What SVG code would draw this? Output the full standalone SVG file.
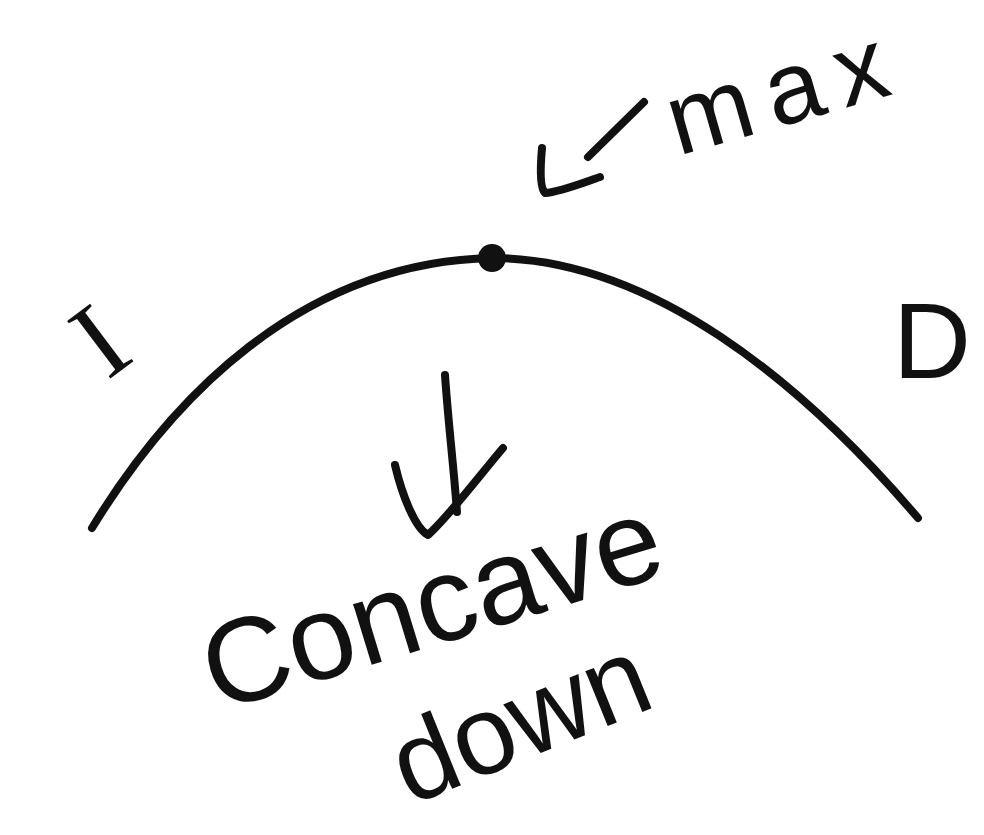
<svg xmlns="http://www.w3.org/2000/svg" width="984" height="835" viewBox="0 0 984 835">
  <style>
    .ink { fill: none; stroke: #111; stroke-width: 8; stroke-linecap: round; stroke-linejoin: round; }
    .hand { fill: #111; font-family: "Liberation Sans", Arial, sans-serif; }
    .serif { font-family: "Liberation Serif", "Times New Roman", serif; }
  </style>
  <rect width="984" height="835" fill="#fff"/>

  <!-- the concave-down curve -->
  <g id="curve">
    <path class="ink" stroke-width="7" d="M92,528 C170,400 300,262 492,258 C650,258 800,380 918,518"/>
  </g>

  <!-- maximum point -->
  <g id="max-point">
    <circle cx="492" cy="258" r="14" fill="#111"/>
  </g>

  <!-- labels -->
  <g id="label-increasing">
    <text class="hand serif" font-size="110" text-anchor="middle" transform="translate(122,370) rotate(-37)">I</text>
  </g>
  <g id="label-decreasing">
    <text class="hand" font-size="108" x="893" y="378">D</text>
  </g>
  <g id="label-max">
    <text class="hand" font-size="102" letter-spacing="16" transform="translate(678,156) rotate(-16)">max</text>
  </g>
  <g id="label-concave">
    <text class="hand" font-size="120" transform="translate(217,712) rotate(-17)">Concave</text>
  </g>
  <g id="label-down">
    <text class="hand" font-size="112" transform="translate(410,806) rotate(-22)">down</text>
  </g>

  <!-- pointer arrows -->
  <g id="connectors">
    <path class="ink" d="M588,157 L644,102"/>
    <path class="ink" d="M542,148 C540,170 540,188 545,193 C560,192 585,182 600,177"/>
    <path class="ink" d="M445,375 C448,420 454,470 457,512"/>
    <path class="ink" d="M395,465 C402,495 415,528 428,535 C450,515 480,475 503,448"/>
  </g>
</svg>
